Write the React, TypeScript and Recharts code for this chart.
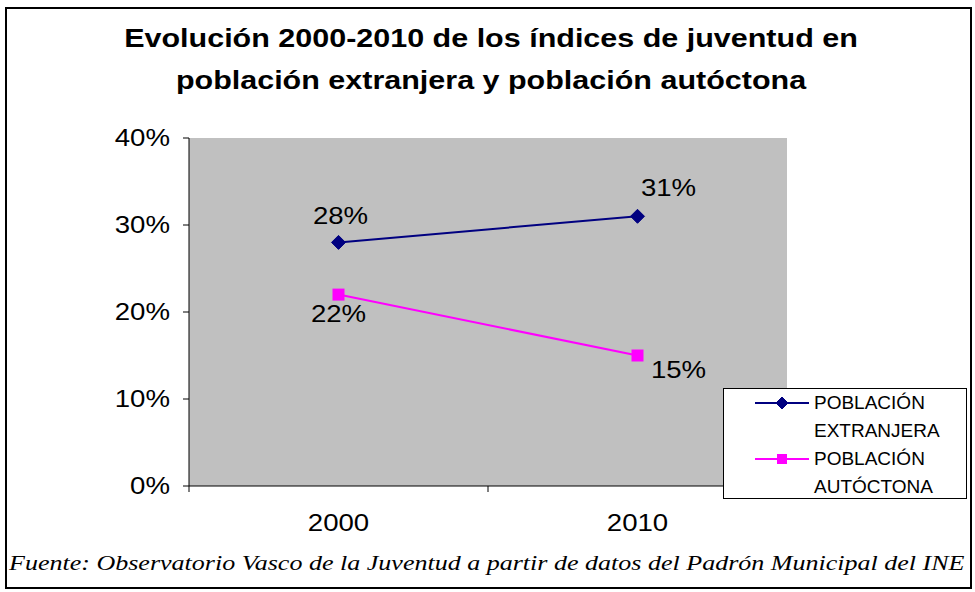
import { LineChart, Line, XAxis, YAxis, Legend, LabelList, CartesianGrid } from "recharts";

const years = ["2000", "2010"];
const extranjera = [28, 31];
const autoctona = [22, 15];
const yTicks = [0, 10, 20, 30, 40];

const data = years.map((y, i) => ({ year: y, extranjera: extranjera[i], autoctona: autoctona[i] }));

const NAVY = "#000080";
const MAGENTA = "#FF00FF";
const FONT = "'Liberation Sans', Arial, sans-serif";
const SERIF = "'Liberation Serif', 'Times New Roman', serif";
// the original picture is stretched sideways
const SX = 1.2;
const seriesOrder = ["extranjera", "autoctona"];

// label offsets per point, like the original layout
const extOffsets = [
  [2, -27],
  [31, -28],
];
const autOffsets = [
  [0, 19],
  [41, 14],
];

function WideText({ x, y, anchor = "middle", size = 23, children, dy = "0.355em" }: any) {
  return (
    <text
      transform={`translate(${x},${y}) scale(${SX},1)`}
      textAnchor={anchor}
      dy={dy}
      fontSize={size}
      fill="#000"
      fontFamily={FONT}
    >
      {children}
    </text>
  );
}

function makeLabel(offsets: number[][]) {
  return (props: any) => {
    const { x, y, value, index } = props;
    const [dx, dy] = offsets[index] || [0, 0];
    return <WideText x={x + dx} y={y + dy}>{value}%</WideText>;
  };
}

function Diamond({ cx, cy, size = 7 }: { cx: number; cy: number; size?: number }) {
  return <path d={`M${cx},${cy - size}L${cx + size},${cy}L${cx},${cy + size}L${cx - size},${cy}Z`} fill={NAVY} stroke={NAVY} />;
}

function Square({ cx, cy, size = 6 }: { cx: number; cy: number; size?: number }) {
  return <rect x={cx - size} y={cy - size} width={size * 2} height={size * 2} fill={MAGENTA} />;
}

function XTick(props: any) {
  const { x, y, payload, index, visibleTicksCount } = props;
  const half = payload.offset || 0;
  const axisY = y - 6;
  return (
    <g>
      <line x1={x - half} x2={x - half} y1={axisY} y2={axisY + 6} stroke="#000" />
      {index === visibleTicksCount - 1 && <line x1={x + half} x2={x + half} y1={axisY} y2={axisY + 6} stroke="#000" />}
      <WideText x={x} y={y + 31}>{payload.value}</WideText>
    </g>
  );
}

function YTick(props: any) {
  const { x, y, payload } = props;
  return (
    <WideText x={x} y={y} anchor="end">
      {payload.value}%
    </WideText>
  );
}

function LegendBox({ payload }: any) {
  const items = [...(payload || [])].sort(
    (a: any, b: any) => seriesOrder.indexOf(a.dataKey) - seriesOrder.indexOf(b.dataKey)
  );
  return (
    <div
      style={{
        background: "#fff",
        border: "1px solid #000",
        width: 244,
        height: 111,
        boxSizing: "border-box",
        fontFamily: FONT,
        fontSize: 19,
        color: "#000",
      }}
    >
      {items.map((p: any) => (
        <div key={p.value} style={{ display: "flex", alignItems: "flex-start", height: 56 }}>
          <svg width={90} height={28} style={{ flexShrink: 0 }}>
            <line x1={31} x2={85} y1={14} y2={14} stroke={p.color} strokeWidth={2} />
            {p.dataKey === "extranjera" ? <Diamond cx={58} cy={14} size={6} /> : <Square cx={58} cy={14} size={5} />}
          </svg>
          <div style={{ lineHeight: "28px", width: 140 }}>{p.value}</div>
        </div>
      ))}
    </div>
  );
}

export default function App() {
  return (
    <div style={{ position: "absolute", left: 0, top: 0, width: 975, height: 592, background: "#fff" }}>
      <div
        style={{
          position: "absolute",
          left: 5,
          top: 7,
          width: 967,
          height: 582,
          border: "2px solid #000",
          boxSizing: "border-box",
        }}
      />
      <svg style={{ position: "absolute", left: 0, top: 0 }} width={975} height={592}>
        <text transform="translate(491,47) scale(1.22,1)" textAnchor="middle" fontSize={25} fontWeight="bold" fontFamily={FONT} fill="#000">
          Evolución 2000-2010 de los índices de juventud en
        </text>
        <text transform="translate(491,89) scale(1.22,1)" textAnchor="middle" fontSize={25} fontWeight="bold" fontFamily={FONT} fill="#000">
          población extranjera y población autóctona
        </text>
        <text transform="translate(9,570) scale(1.24,1)" fontSize={21} fontStyle="italic" fontFamily={SERIF} fill="#000">
          Fuente: Observatorio Vasco de la Juventud a partir de datos del Padrón Municipal del INE
        </text>
      </svg>
      <div style={{ position: "absolute", left: 0, top: 0 }}>
        <LineChart width={975} height={592} data={data} margin={{ top: 138, right: 188, bottom: 66, left: 129 }}>
          <CartesianGrid fill="#C0C0C0" fillOpacity={1} horizontal={false} vertical={false} />
          <XAxis
            dataKey="year"
            scale="band"
            height={40}
            tickSize={6}
            tickMargin={0}
            tickLine={false}
            tick={<XTick />}
            axisLine={{ stroke: "#000" }}
          />
          <XAxis xAxisId="top" orientation="top" dataKey="year" scale="band" height={0} tick={false} tickLine={false} axisLine={{ stroke: "#808080" }} />
          <YAxis
            domain={[0, 40]}
            ticks={yTicks}
            width={60}
            tickSize={6}
            tickMargin={13}
            tick={<YTick />}
            axisLine={{ stroke: "#000" }}
            tickLine={{ stroke: "#000" }}
            interval={0}
          />
          <YAxis yAxisId="right" orientation="right" width={0} tick={false} tickLine={false} axisLine={{ stroke: "#808080" }} />
          <Legend
            layout="horizontal"
            verticalAlign="middle"
            align="center"
            content={<LegendBox />}
            wrapperStyle={{ position: "absolute", left: 723, top: 388, width: 244, height: 111 }}
          />
          <Line
            dataKey="extranjera"
            name="POBLACIÓN EXTRANJERA"
            stroke={NAVY}
            strokeWidth={2}
            isAnimationActive={false}
            dot={(p: any) => <Diamond key={`e${p.index}`} cx={p.cx} cy={p.cy} />}
          >
            <LabelList dataKey="extranjera" content={makeLabel(extOffsets)} />
          </Line>
          <Line
            dataKey="autoctona"
            name="POBLACIÓN AUTÓCTONA"
            stroke={MAGENTA}
            strokeWidth={2}
            isAnimationActive={false}
            dot={(p: any) => <Square key={`a${p.index}`} cx={p.cx} cy={p.cy} />}
          >
            <LabelList dataKey="autoctona" content={makeLabel(autOffsets)} />
          </Line>
        </LineChart>
      </div>
    </div>
  );
}
